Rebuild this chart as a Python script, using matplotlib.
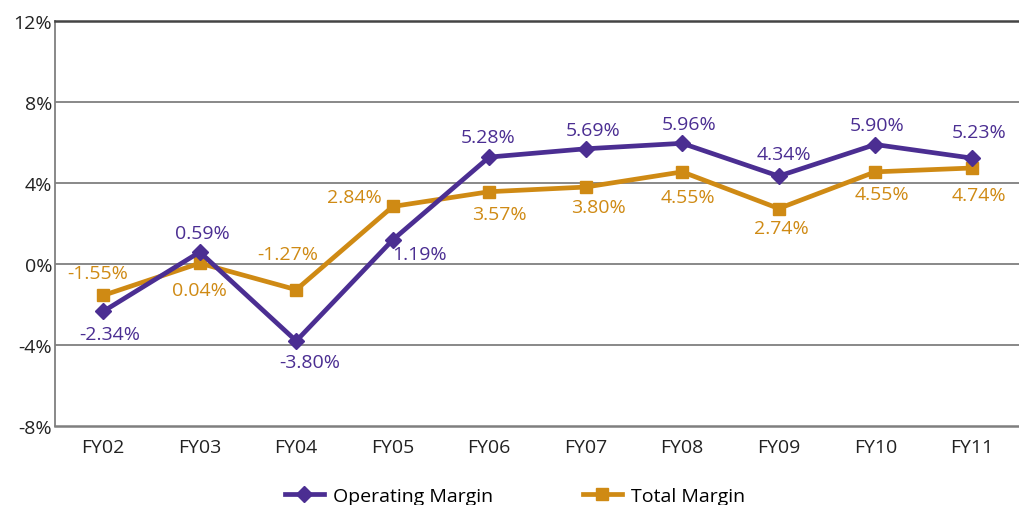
import matplotlib
matplotlib.use("Agg")
import matplotlib.pyplot as plt
from matplotlib.ticker import FuncFormatter

plt.rcParams['font.family'] = ['Open Sans', 'DejaVu Sans']

years = ["FY02", "FY03", "FY04", "FY05", "FY06", "FY07", "FY08", "FY09", "FY10", "FY11"]
operating = [-2.34, 0.59, -3.80, 1.19, 5.28, 5.69, 5.96, 4.34, 5.90, 5.23]
total = [-1.55, 0.04, -1.27, 2.84, 3.57, 3.80, 4.55, 2.74, 4.55, 4.74]

# label offsets in pixels (dx, dy)
op_off = [(7, -23), (3, 19), (14, -21), (27, -14), (-1, 20), (7, 19), (7, 19), (5, 22), (2, 20), (7, 26)]
tot_off = [(-6, 22), (0, -27), (-8, 36), (-38, 9), (10, -22), (13, -20), (6, -25), (3, -19), (7, -22), (7, -27)]

purple = "#4B2E92"
gold = "#CF8A14"

fig = plt.figure(figsize=(10.2, 5.06), dpi=100)
ax = fig.add_axes([55/1020, 1-427/506, 1-55/1020, (427-22)/506])

x = list(range(len(years)))
ax.plot(x, operating, color=purple, lw=3.4, marker="D", ms=8, label="Operating Margin", zorder=4)
ax.plot(x, total, color=gold, lw=3.4, marker="s", ms=9, label="Total Margin", zorder=3)

for i, v in enumerate(operating):
    ax.annotate(f"{v:.2f}%", (i, v), xytext=op_off[i], textcoords="offset pixels",
                ha="center", va="center", color=purple, fontsize=14)
for i, v in enumerate(total):
    ax.annotate(f"{v:.2f}%", (i, v), xytext=tot_off[i], textcoords="offset pixels",
                ha="center", va="center", color=gold, fontsize=14)

ax.set_xlim(-0.5, 9.5)
ax.set_ylim(-8, 12)
ax.set_yticks([-8, -4, 0, 4, 8, 12])
ax.yaxis.set_major_formatter(FuncFormatter(lambda v, p: f"{int(v)}%"))
ax.set_xticks(x)
ax.set_xticklabels(years)
ax.tick_params(axis="both", length=0, labelsize=14, colors="#222222")
ax.tick_params(axis="x", pad=9)
ax.tick_params(axis="y", pad=2)

for yv in [-4, 0, 4, 8]:
    ax.axhline(yv, color="#7f7f7f", lw=1.3, zorder=1)

ax.spines["right"].set_visible(False)
ax.spines["top"].set_color("#444444")
ax.spines["top"].set_linewidth(1.8)
ax.spines["left"].set_color("#7f7f7f")
ax.spines["left"].set_linewidth(1.3)
ax.spines["bottom"].set_color("#7f7f7f")
ax.spines["bottom"].set_linewidth(1.8)

fig.legend(loc="center", bbox_to_anchor=(0.505, 1-497/506), ncol=2, frameon=False,
           fontsize=14, columnspacing=4.6, handlelength=2.0, handletextpad=0.5)

fig.savefig("out.png", dpi=100)
